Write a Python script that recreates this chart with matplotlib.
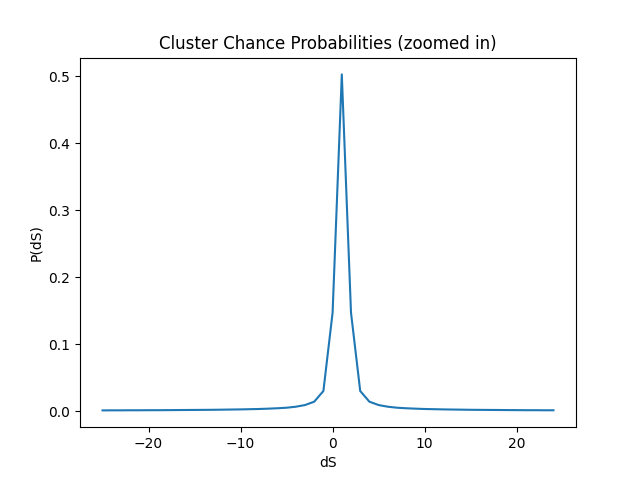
import matplotlib
matplotlib.use("Agg")
import matplotlib.pyplot as plt
import numpy as np

# dS from -25 to 24
dS = np.arange(-25, 25)
p = [0.0010, 0.0011, 0.0011, 0.0012, 0.0012, 0.0013, 0.0013, 0.0014, 0.0015,
     0.0016, 0.0017, 0.0018, 0.0019, 0.0021, 0.0023, 0.0025, 0.0028, 0.0031,
     0.0036, 0.0042, 0.0050, 0.0065, 0.0090, 0.0140, 0.0300, 0.1470,
     0.5030,
     0.1470, 0.0300, 0.0140, 0.0090, 0.0065, 0.0050, 0.0042, 0.0036, 0.0031,
     0.0028, 0.0025, 0.0023, 0.0021, 0.0019, 0.0018, 0.0017, 0.0016, 0.0015,
     0.0014, 0.0013, 0.0013, 0.0012, 0.0012]

fig, ax = plt.subplots(figsize=(6.4, 4.8), dpi=100)
ax.plot(dS, p)
ax.set_title("Cluster Chance Probabilities (zoomed in)")
ax.set_xlabel("dS")
ax.set_ylabel("P(dS)")
fig.savefig("out.png")
